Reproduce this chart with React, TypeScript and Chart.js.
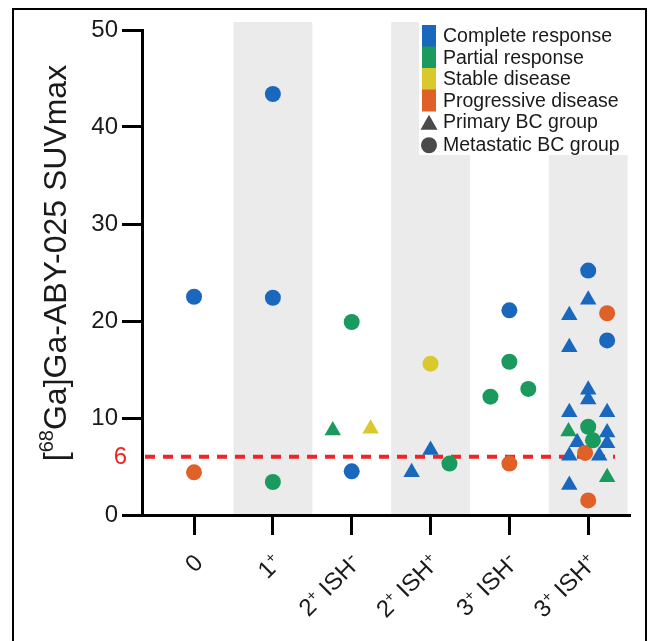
import { useEffect, useRef } from 'react';
import { Chart, registerables } from 'chart.js';

Chart.register(...registerables);

// ---------- data ----------
const categories = ['0', '1+', '2+ ISH-', '2+ ISH+', '3+ ISH-', '3+ ISH+'];
const yTickValues = [0, 10, 20, 30, 40, 50];
const thresholdValue = 6;
const shadedCategories = [1, 3, 5];

// each entry: [category index, horizontal jitter (category units), SUVmax]
const completeMetastatic = [
  [0, 0, 22.5], [1, 0, 43.4], [1, 0, 22.4], [2, 0, 4.5], [4, 0, 21.1],
  [5, 0, 25.2], [5, 0.24, 18.0],
];
const completePrimary = [
  [3, 0, 6.7], [3, -0.24, 4.4],
  [5, 0, 22.2], [5, -0.24, 20.6], [5, -0.24, 17.3], [5, 0, 12.9], [5, 0, 11.9],
  [5, -0.24, 10.6], [5, 0.24, 10.6], [5, 0.24, 8.5], [5, -0.14, 7.5], [5, 0.24, 7.4],
  [5, -0.24, 6.1], [5, 0.14, 6.1], [5, -0.24, 3.1],
];
const partialMetastatic = [
  [1, 0, 3.4], [2, 0, 19.9], [3, 0.24, 5.3], [4, 0, 15.8], [4, -0.24, 12.2],
  [4, 0.24, 13.0], [5, 0, 9.1], [5, 0.06, 7.7],
];
const partialPrimary = [[2, -0.24, 8.7], [5, -0.25, 8.6], [5, 0.24, 3.9]];
const stableMetastatic = [[3, 0, 15.6]];
const stablePrimary = [[2, 0.24, 8.9]];
const progressiveMetastatic = [
  [0, 0, 4.4], [4, 0, 5.3], [5, 0.24, 20.8], [5, -0.04, 6.4], [5, 0, 1.5],
];

const legendResponses = ['Complete response', 'Partial response', 'Stable disease', 'Progressive disease'];
const legendGroups = ['Primary BC group', 'Metastatic BC group'];

// ---------- styles ----------
const BLUE = '#1a68bd';
const GREEN = '#1b9a5d';
const YELLOW = '#d9c92c';
const ORANGE = '#df6128';
const responseColors = [BLUE, GREEN, YELLOW, ORANGE];
const FONT = '"Liberation Sans", Arial, Helvetica, sans-serif';
const BAND = '#ebebeb';
const TEXT = '#1a1a1a';

const toPoints = (arr: number[][]) => arr.map(([c, dx, v]) => ({ x: c + dx, y: v }));

// split a tick label into runs; '+' and '-' are drawn as superscripts
function labelRuns(label: string, size: number): [string, number, number][] {
  const runs: [string, number, number][] = [];
  for (const ch of label) {
    if (ch === '+') runs.push([ch, size * 0.62, -size * 0.36]);
    else if (ch === '-') runs.push([ch, size * 0.85, -size * 0.3]);
    else if (runs.length && runs[runs.length - 1][1] === size) runs[runs.length - 1][0] += ch;
    else runs.push([ch, size, 0]);
  }
  return runs;
}

const decorPlugin = {
  id: 'decor',
  beforeDraw(chart: any) {
    const { ctx, chartArea, scales } = chart;
    const xs = scales.x;
    ctx.save();
    ctx.fillStyle = '#ffffff';
    ctx.fillRect(0, 0, chart.width, chart.height);
    ctx.fillStyle = BAND;
    shadedCategories.forEach((c) => {
      const x0 = xs.getPixelForValue(c - 0.5);
      const x1 = xs.getPixelForValue(c + 0.5);
      ctx.fillRect(x0, chartArea.top - 8, x1 - x0, chartArea.bottom - chartArea.top + 8);
    });
    ctx.fillStyle = '#ffffff';
    ctx.fillRect(chartArea.right - 211, chartArea.top - 10, 211, 135);
    ctx.strokeStyle = '#000';
    ctx.lineWidth = 2;
    ctx.strokeRect(13, 9, 633, 700);
    ctx.restore();
  },
  beforeDatasetsDraw(chart: any) {
    const { ctx, chartArea, scales } = chart;
    const y = scales.y.getPixelForValue(thresholdValue);
    ctx.save();
    ctx.strokeStyle = '#f02424';
    ctx.lineWidth = 4;
    ctx.setLineDash([10, 8]);
    ctx.beginPath();
    ctx.moveTo(chartArea.left + 3, y);
    ctx.lineTo(scales.x.getPixelForValue(5.34), y);
    ctx.stroke();
    ctx.restore();
  },
  afterDraw(chart: any) {
    const { ctx, chartArea, scales } = chart;
    ctx.save();
    ctx.fillStyle = '#f02424';
    ctx.font = `24px ${FONT}`;
    ctx.textAlign = 'right';
    ctx.textBaseline = 'middle';
    ctx.fillText(String(thresholdValue), chartArea.left - 15, scales.y.getPixelForValue(thresholdValue) + 1);
    ctx.restore();

    // x tick labels, rotated 45 degrees
    const fs = 24;
    categories.forEach((lab, i) => {
      const runs = labelRuns(lab, fs);
      ctx.save();
      ctx.fillStyle = TEXT;
      ctx.translate(scales.x.getPixelForValue(i) + 4, chartArea.bottom + 43);
      ctx.rotate(-Math.PI / 4);
      ctx.textAlign = 'left';
      ctx.textBaseline = 'alphabetic';
      let total = 0;
      runs.forEach(([t, s]) => { ctx.font = `${s}px ${FONT}`; total += ctx.measureText(t).width; });
      let x = -total;
      runs.forEach(([t, s, dy]) => {
        ctx.font = `${s}px ${FONT}`;
        ctx.fillText(t, x, fs * 0.36 + dy);
        x += ctx.measureText(t).width;
      });
      ctx.restore();
    });

    // axis title with superscript
    ctx.save();
    ctx.fillStyle = TEXT;
    ctx.translate(66, 263);
    ctx.rotate(-Math.PI / 2);
    ctx.textAlign = 'left';
    ctx.textBaseline = 'alphabetic';
    const big = `32px ${FONT}`;
    const small = `20px ${FONT}`;
    const parts: [string, string, number][] = [
      ['[', big, 0],
      ['68', small, -13],
      ['Ga]Ga-ABY-025 SUVmax', big, 0],
    ];
    let total = 0;
    parts.forEach(([t, f]) => { ctx.font = f; total += ctx.measureText(t).width; });
    let x = -total / 2;
    parts.forEach(([t, f, dy]) => {
      ctx.font = f;
      ctx.fillText(t, x, dy);
      x += ctx.measureText(t).width;
    });
    ctx.restore();

    // legend
    ctx.save();
    const lx = chartArea.right - 208;
    const top = chartArea.top - 5;
    const rowH = 21.5;
    ctx.font = `19.5px ${FONT}`;
    ctx.textBaseline = 'middle';
    ctx.textAlign = 'left';
    responseColors.forEach((col, i) => {
      ctx.fillStyle = col;
      ctx.fillRect(lx, top + i * rowH, 14, rowH + 0.5);
      ctx.fillStyle = TEXT;
      ctx.fillText(legendResponses[i], lx + 21, top + i * rowH + rowH / 2 + 1);
    });
    const gy0 = top + 4 * rowH + rowH / 2 + 1;
    const gy1 = gy0 + rowH + 1;
    ctx.fillStyle = '#4a4a4a';
    ctx.beginPath();
    ctx.moveTo(lx + 7, gy0 - 8);
    ctx.lineTo(lx + 15.5, gy0 + 7);
    ctx.lineTo(lx - 1.5, gy0 + 7);
    ctx.closePath();
    ctx.fill();
    ctx.beginPath();
    ctx.arc(lx + 7, gy1, 8, 0, Math.PI * 2);
    ctx.fill();
    ctx.fillStyle = TEXT;
    ctx.fillText(legendGroups[0], lx + 21, gy0);
    ctx.fillText(legendGroups[1], lx + 21, gy1);
    ctx.restore();
  },
};

export default function App() {
  const ref = useRef<HTMLCanvasElement>(null);

  useEffect(() => {
    if (!ref.current) return;
    const mk = (data: number[][], color: string, style: string, order: number) => ({
      data: toPoints(data),
      backgroundColor: color,
      borderColor: color,
      borderWidth: 0,
      pointStyle: style,
      pointRadius: style === 'triangle' ? 9.5 : 8,
      showLine: false,
      order,
    });
    const chart = new Chart(ref.current, {
      type: 'scatter',
      data: {
        datasets: [
          mk(completeMetastatic, BLUE, 'circle', 0),
          mk(partialMetastatic, GREEN, 'circle', 0),
          mk(stableMetastatic, YELLOW, 'circle', 0),
          mk(progressiveMetastatic, ORANGE, 'circle', 0),
          mk(completePrimary, BLUE, 'triangle', 1),
          mk(partialPrimary, GREEN, 'triangle', 1),
          mk(stablePrimary, YELLOW, 'triangle', 1),
        ] as any,
      },
      options: {
        animation: false,
        responsive: true,
        maintainAspectRatio: false,
        layout: { padding: { left: 0, top: 30, right: 20, bottom: 0 } },
        plugins: { legend: { display: false }, tooltip: { enabled: false } },
        scales: {
          x: {
            type: 'linear',
            min: -0.66,
            max: 5.53,
            afterFit: (s: any) => { s.height = 126; },
            afterBuildTicks: (s: any) => { s.ticks = categories.map((_, i) => ({ value: i })); },
            grid: { drawOnChartArea: false, drawTicks: true, tickLength: 20, tickWidth: 3, tickColor: '#000' },
            border: { display: true, width: 3, color: '#000' },
            ticks: { display: false, autoSkip: false },
          },
          y: {
            min: 0,
            max: 50,
            afterFit: (s: any) => { s.width = 142; },
            afterBuildTicks: (s: any) => { s.ticks = yTickValues.map((v) => ({ value: v })); },
            grid: { drawOnChartArea: false, drawTicks: true, tickLength: 20, tickWidth: 3, tickColor: '#000' },
            border: { display: true, width: 3, color: '#000' },
            ticks: {
              padding: 4,
              color: TEXT,
              font: { family: FONT, size: 24 },
            },
          },
        },
      },
      plugins: [decorPlugin],
    });
    return () => chart.destroy();
  }, []);

  return (
    <div style={{ position: 'absolute', left: 0, top: 0, width: 650, height: 641 }}>
      <canvas ref={ref} />
    </div>
  );
}
